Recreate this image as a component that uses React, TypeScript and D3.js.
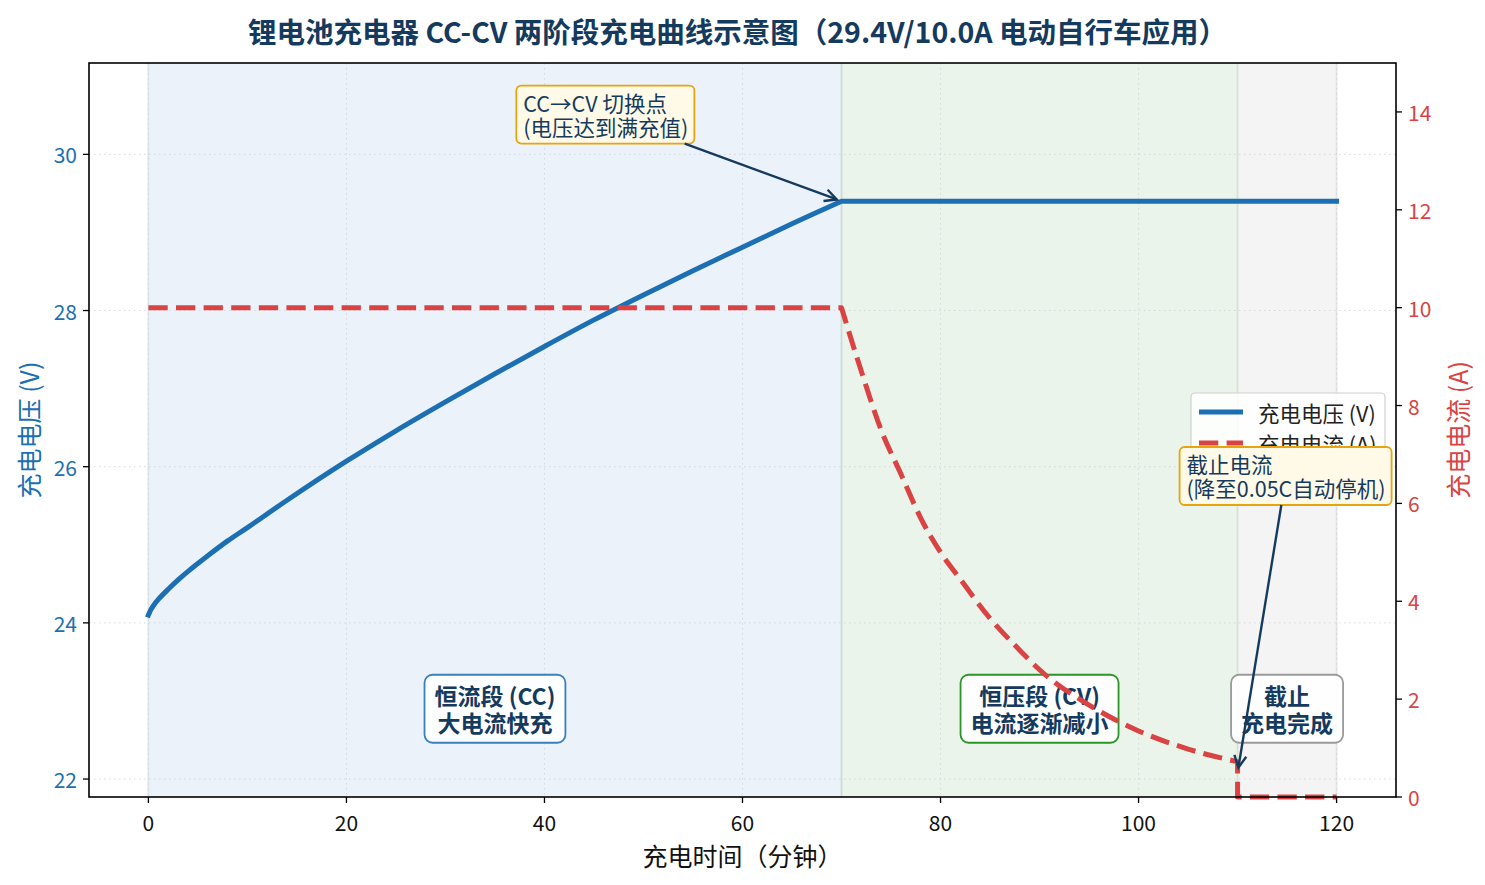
import { useEffect, useRef } from 'react';
import * as d3 from 'd3';

// Voltage curve (minutes, volts)
const timeV = [0, 0.25, 0.5, 1, 2, 3, 4, 6, 8, 10, 14, 20, 25, 30, 35, 40, 45, 50, 55, 60, 65, 70, 120];
const voltage = [24.1, 24.17, 24.22, 24.3, 24.43, 24.55, 24.66, 24.86, 25.05, 25.22, 25.57, 26.07, 26.46, 26.83, 27.19, 27.54, 27.88, 28.2, 28.51, 28.81, 29.11, 29.4, 29.4];

// Current curve (minutes, amps)
const timeA = [0, 70, 72, 74, 76, 78, 80, 82, 85, 88, 90, 95, 100, 105, 110, 110, 120];
const current = [10, 10, 8.7, 7.5, 6.6, 5.7, 5.0, 4.45, 3.65, 3.0, 2.6, 1.88, 1.35, 0.98, 0.72, 0, 0];

const xTicks = [0, 20, 40, 60, 80, 100, 120];
const vTicks = [22, 24, 26, 28, 30];
const aTicks = [0, 2, 4, 6, 8, 10, 12, 14];

const phaseBounds = [0, 70, 110, 120];
const phaseLabels = [
  ['恒流段 (CC)', '大电流快充'],
  ['恒压段 (CV)', '电流逐渐减小'],
  ['截止', '充电完成'],
];
const phaseLabelTime = [35, 90, 115];
const phaseLabelVolt = 22.9;

const W = 1485;
const H = 885;
const FONT = '"Noto Sans CJK SC", "Noto Sans", sans-serif';
const BLUE = '#1c6fb2';
const RED = '#d94343';
const NAVY = '#143a5e';

export default function App() {
  const svgRef = useRef<SVGSVGElement>(null);

  useEffect(() => {
    if (!svgRef.current) return;
    document.body.style.margin = '0';
    const svg = d3.select(svgRef.current);
    svg.selectAll('*').remove();

    const L = 89, R = 1396, T = 63, B = 797;
    const x = d3.scaleLinear().domain([-6, 126]).range([L, R]);
    const yV = d3.scaleLinear().domain([21.77, 31.17]).range([B, T]);
    const yA = d3.scaleLinear().domain([0, 15]).range([B, T]);

    svg.append('rect').attr('width', W).attr('height', H).attr('fill', '#fff');

    // phase shading
    const phaseFill = ['#ecf2f9', '#eaf4ea', '#f4f4f4'];
    phaseFill.forEach((c, i) => {
      svg.append('rect')
        .attr('x', x(phaseBounds[i]))
        .attr('y', T)
        .attr('width', x(phaseBounds[i + 1]) - x(phaseBounds[i]))
        .attr('height', B - T)
        .attr('fill', c);
    });
    const edgeColors = ['#dce6f1', '#c8ddd6', '#d6e2d6', '#e6e6e6'];
    phaseBounds.forEach((t, i) => {
      svg.append('line')
        .attr('x1', x(t)).attr('x2', x(t))
        .attr('y1', T).attr('y2', B)
        .attr('stroke', edgeColors[i])
        .attr('stroke-width', 1.8);
    });

    // grid
    const grid = svg.append('g')
      .attr('stroke', '#cfd3d8')
      .attr('stroke-width', 1)
      .attr('stroke-dasharray', '1.5,3.5')
      .attr('opacity', 0.8);
    xTicks.forEach(t => {
      grid.append('line').attr('x1', x(t)).attr('x2', x(t)).attr('y1', T).attr('y2', B);
    });
    vTicks.forEach(v => {
      grid.append('line').attr('x1', L).attr('x2', R).attr('y1', yV(v)).attr('y2', yV(v));
    });

    // phase label boxes
    const boxStroke = ['#3a80bd', '#2a962a', '#9a9a9a'];
    phaseLabels.forEach((lines, i) => {
      const cx = x(phaseLabelTime[i]);
      const cy = yV(phaseLabelVolt);
      const g = svg.append('g');
      const text = g.append('text')
        .attr('text-anchor', 'middle')
        .attr('fill', NAVY)
        .attr('font-family', FONT)
        .attr('font-size', 23)
        .attr('font-weight', 700);
      lines.forEach((ln, j) => {
        text.append('tspan')
          .attr('x', cx)
          .attr('y', cy + (j - 0.5) * 27)
          .attr('dominant-baseline', 'central')
          .text(ln);
      });
      const bb = (text.node() as SVGTextElement).getBBox();
      g.insert('rect', 'text')
        .attr('x', bb.x - 10)
        .attr('y', cy - 34)
        .attr('width', bb.width + 20)
        .attr('height', 68)
        .attr('rx', 8)
        .attr('fill', '#ffffff')
        .attr('fill-opacity', 0.9)
        .attr('stroke', boxStroke[i])
        .attr('stroke-width', 1.8);
    });

    // voltage line
    const vPts = timeV.map((t, i) => [x(t), yV(voltage[i])] as [number, number]);
    const knee = timeV.indexOf(70);
    const rise = d3.line().curve(d3.curveCatmullRom.alpha(0.5))(vPts.slice(0, knee + 1)) || '';
    const flat = d3.line()(vPts.slice(knee)) || '';
    svg.append('path')
      .attr('d', rise + flat.replace(/^M/, 'L'))
      .attr('fill', 'none')
      .attr('stroke', BLUE)
      .attr('stroke-width', 5)
      .attr('stroke-linejoin', 'round')
      .attr('stroke-linecap', 'square');

    // current line
    const aPts = timeA.map((t, i) => [x(t), yA(current[i])] as [number, number]);
    const cut = timeA.indexOf(110);
    const ccPart = d3.line()(aPts.slice(0, 2)) || '';
    const decay = d3.line().curve(d3.curveMonotoneX)(aPts.slice(1, cut + 1)) || '';
    const tail = d3.line()(aPts.slice(cut)) || '';
    svg.append('path')
      .attr('d', ccPart + decay.replace(/^M/, 'L') + tail.replace(/^M/, 'L'))
      .attr('fill', 'none')
      .attr('stroke', RED)
      .attr('stroke-width', 5)
      .attr('stroke-dasharray', '19.3,8.3')
      .attr('stroke-linejoin', 'round');

    // legend
    const lg = svg.append('g');
    lg.append('rect')
      .attr('x', 1191).attr('y', 393)
      .attr('width', 194).attr('height', 66)
      .attr('rx', 4)
      .attr('fill', '#fff').attr('fill-opacity', 0.85)
      .attr('stroke', '#d0d0d0').attr('stroke-width', 1.2);
    const legendItems = [
      { label: '充电电压 (V)', color: BLUE, dash: null },
      { label: '充电电流 (A)', color: RED, dash: '19.3,8.3' },
    ];
    legendItems.forEach((it, i) => {
      const ly = 412 + i * 31;
      lg.append('line')
        .attr('x1', 1199).attr('x2', 1243)
        .attr('y1', ly).attr('y2', ly)
        .attr('stroke', it.color)
        .attr('stroke-width', 5)
        .attr('stroke-dasharray', it.dash);
      lg.append('text')
        .attr('x', 1258).attr('y', ly)
        .attr('dominant-baseline', 'central')
        .attr('font-family', FONT)
        .attr('font-size', 21.5)
        .attr('fill', '#222')
        .text(it.label);
    });

    // annotations
    const annotate = (lines: string[], cx: number, cy: number, tx: number, ty: number) => {
      const g = svg.append('g');
      const text = g.append('text')
        .attr('fill', NAVY)
        .attr('font-family', FONT)
        .attr('font-size', 21.5);
      lines.forEach((ln, j) => {
        text.append('tspan')
          .attr('x', 0)
          .attr('y', (j - 0.5) * 24)
          .attr('dominant-baseline', 'central')
          .text(ln);
      });
      const bb = (text.node() as SVGTextElement).getBBox();
      const ox = cx - bb.width / 2 - bb.x;
      text.attr('transform', `translate(${ox},${cy})`);
      const bx0 = cx - bb.width / 2 - 7;
      const bx1 = cx + bb.width / 2 + 6;
      const by0 = cy - 29;
      const by1 = cy + 29;
      g.insert('rect', 'text')
        .attr('x', bx0).attr('y', by0)
        .attr('width', bx1 - bx0).attr('height', by1 - by0)
        .attr('rx', 5)
        .attr('fill', '#fffae8')
        .attr('stroke', '#e5a50f')
        .attr('stroke-width', 1.8);
      // arrow from box edge toward target
      const dx = tx - cx, dy = ty - cy;
      const sx = dx > 0 ? (bx1 - cx) / dx : dx < 0 ? (bx0 - cx) / dx : Infinity;
      const sy = dy > 0 ? (by1 - cy) / dy : dy < 0 ? (by0 - cy) / dy : Infinity;
      const s = Math.min(sx, sy);
      const x1 = cx + s * dx, y1 = cy + s * dy;
      const len = Math.hypot(dx, dy);
      const ux = dx / len, uy = dy / len;
      const x2 = tx - ux * 5, y2 = ty - uy * 5;
      const hl = 12, hw = 6;
      svg.append('line')
        .attr('x1', x1).attr('y1', y1).attr('x2', x2).attr('y2', y2)
        .attr('stroke', NAVY).attr('stroke-width', 2.4);
      svg.append('path')
        .attr('d', `M${x2 - ux * hl - uy * hw},${y2 - uy * hl + ux * hw}L${x2},${y2}L${x2 - ux * hl + uy * hw},${y2 - uy * hl - ux * hw}`)
        .attr('fill', 'none')
        .attr('stroke', NAVY).attr('stroke-width', 2.4)
        .attr('stroke-linejoin', 'miter');
    };
    annotate(['CC→CV 切换点', '(电压达到满充值)'], x(46.2), yV(30.51), x(70), yV(29.4));
    annotate(['截止电流', '(降至0.05C自动停机)'], x(114.9), yA(6.56), x(110), yA(0.5));

    // spines
    svg.append('rect')
      .attr('x', L).attr('y', T)
      .attr('width', R - L).attr('height', B - T)
      .attr('fill', 'none')
      .attr('stroke', '#000')
      .attr('stroke-width', 1.6);

    // x axis
    xTicks.forEach(t => {
      svg.append('line').attr('x1', x(t)).attr('x2', x(t)).attr('y1', B).attr('y2', B + 6)
        .attr('stroke', '#000').attr('stroke-width', 1.3);
      svg.append('text')
        .attr('x', x(t)).attr('y', B + 25)
        .attr('text-anchor', 'middle')
        .attr('dominant-baseline', 'central')
        .attr('font-family', FONT).attr('font-size', 21)
        .attr('fill', '#111')
        .text(t);
    });
    // left axis
    vTicks.forEach(v => {
      svg.append('line').attr('x1', L - 6).attr('x2', L).attr('y1', yV(v)).attr('y2', yV(v))
        .attr('stroke', '#000').attr('stroke-width', 1.3);
      svg.append('text')
        .attr('x', L - 12).attr('y', yV(v))
        .attr('text-anchor', 'end')
        .attr('dominant-baseline', 'central')
        .attr('font-family', FONT).attr('font-size', 21)
        .attr('fill', BLUE)
        .text(v);
    });
    // right axis
    aTicks.forEach(a => {
      svg.append('line').attr('x1', R).attr('x2', R + 6).attr('y1', yA(a)).attr('y2', yA(a))
        .attr('stroke', '#000').attr('stroke-width', 1.3);
      svg.append('text')
        .attr('x', R + 12).attr('y', yA(a))
        .attr('text-anchor', 'start')
        .attr('dominant-baseline', 'central')
        .attr('font-family', FONT).attr('font-size', 21)
        .attr('fill', RED)
        .text(a);
    });

    // axis labels
    svg.append('text')
      .attr('x', (L + R) / 2).attr('y', 855)
      .attr('text-anchor', 'middle')
      .attr('dominant-baseline', 'central')
      .attr('font-family', FONT).attr('font-size', 25)
      .attr('fill', '#111')
      .text('充电时间（分钟）');
    svg.append('text')
      .attr('transform', `translate(28,${(T + B) / 2}) rotate(-90)`)
      .attr('text-anchor', 'middle')
      .attr('dominant-baseline', 'central')
      .attr('font-family', FONT).attr('font-size', 25)
      .attr('fill', BLUE)
      .text('充电电压 (V)');
    svg.append('text')
      .attr('transform', `translate(1457,${(T + B) / 2}) rotate(-90)`)
      .attr('text-anchor', 'middle')
      .attr('dominant-baseline', 'central')
      .attr('font-family', FONT).attr('font-size', 25)
      .attr('fill', RED)
      .text('充电电流 (A)');

    // title
    svg.append('text')
      .attr('x', (L + R) / 2 - 5).attr('y', 30)
      .attr('text-anchor', 'middle')
      .attr('dominant-baseline', 'central')
      .attr('font-family', FONT).attr('font-size', 28.5)
      .attr('font-weight', 700)
      .attr('fill', NAVY)
      .text('锂电池充电器 CC-CV 两阶段充电曲线示意图（29.4V/10.0A 电动自行车应用）');
  }, []);

  return <svg ref={svgRef} width={W} height={H} style={{ display: 'block' }} />;
}
